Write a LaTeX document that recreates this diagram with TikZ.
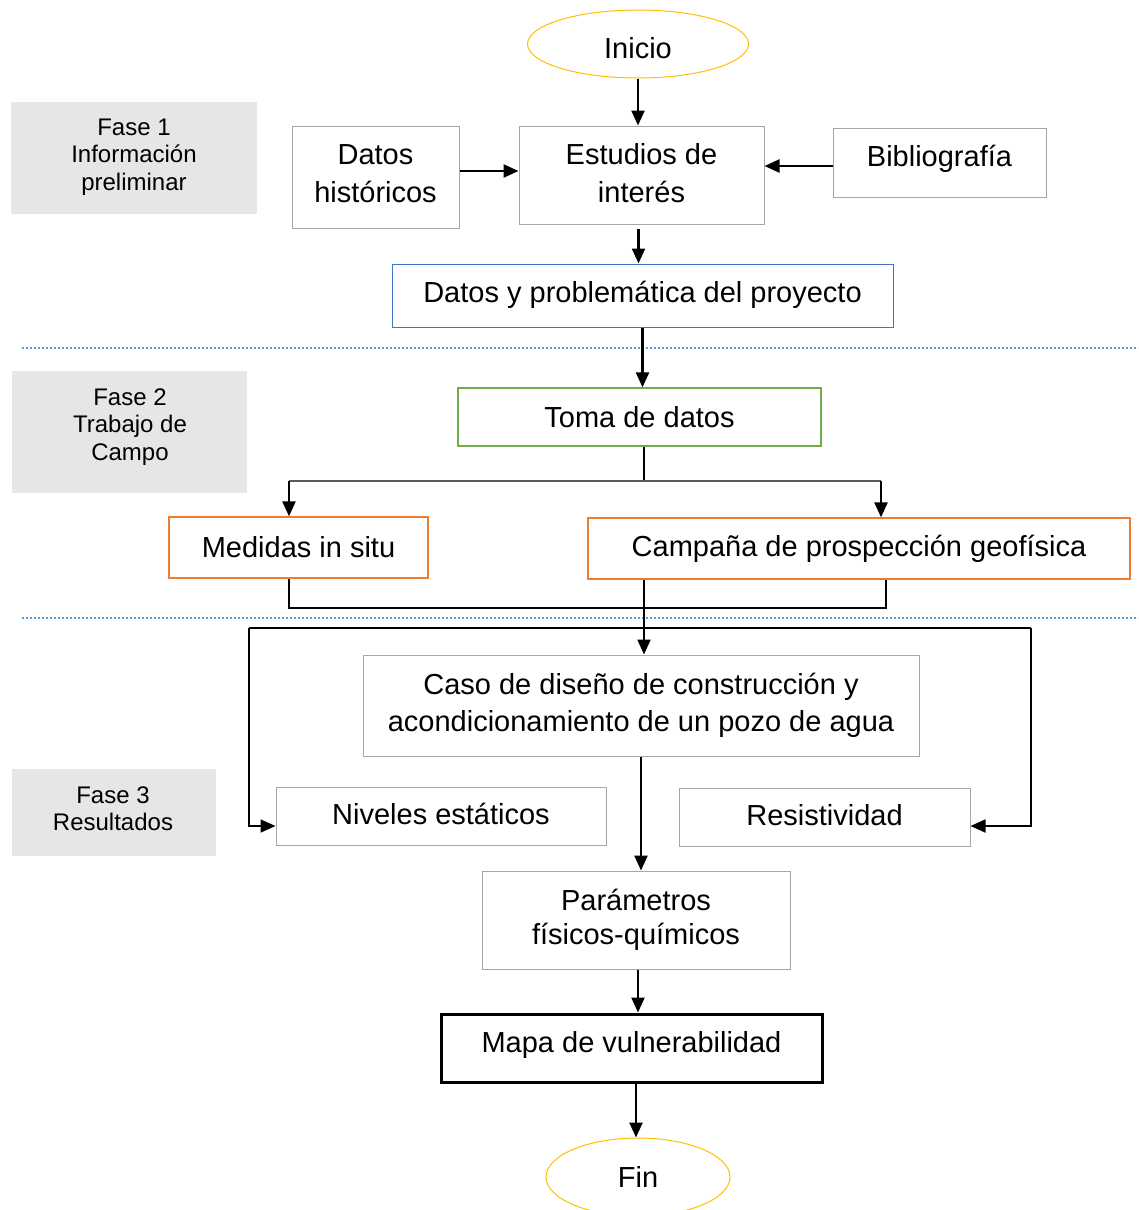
\documentclass[tikz,border=0pt]{standalone}
\usepackage{fontspec}
\setmainfont{Liberation Sans}
\usetikzlibrary{arrows.meta,shapes.geometric}
\definecolor{boxgray}{HTML}{A6A6A6}
\definecolor{phasegray}{HTML}{E7E6E6}
\definecolor{gold}{HTML}{FFC000}
\definecolor{pblue}{HTML}{4472C4}
\definecolor{pgreen}{HTML}{70AD47}
\definecolor{porange}{HTML}{ED7D31}
\definecolor{sepblue}{HTML}{5B9BD5}
\newcommand\shiftT[2]{\raisebox{#1}[\height][\depth]{\begin{tabular}{@{}c@{}}#2\end{tabular}}}
\begin{document}
\begin{tikzpicture}[x=1pt,y=-1pt,
  box/.style={draw=boxgray, line width=1pt, align=center, inner sep=0pt, font=\fontsize{29}{37}\selectfont},
  phasetext/.style={align=center, inner sep=0pt, font=\fontsize{24}{27.5}\selectfont},
  arr/.style={line width=2.4pt, -{Triangle[length=15pt,width=13pt]}},
  link/.style={line width=1.4pt},
  sep/.style={draw=sepblue, line width=1.2pt, dash pattern=on 2pt off 2pt}]
\useasboundingbox (0,0) rectangle (1138,1210);
\clip (0,0) rectangle (1138,1210);

% phase labels
\fill[phasegray] (11,102) rectangle (257,214);
\node[phasetext] (f1) at (134,157) {Fase 1\\Información\\preliminar};
\fill[phasegray] (12,371) rectangle (247,493);
\node[phasetext] (f2) at (130,427) {Fase 2\\Trabajo de\\Campo};
\fill[phasegray] (12,769) rectangle (216,856);
\node[phasetext] (f3) at (113,808.5) {Fase 3\\Resultados};

% separators
\draw[sep] (22,348) -- (1138,348);
\draw[sep] (22,618) -- (1138,618);

% nodes
\node[box, ellipse, draw=gold, minimum width=221, minimum height=68] (ini) at (638,44) {\shiftT{-7pt}{Inicio}};
\node[box, minimum width=167, minimum height=102] (dh) at (375.5,177) {\shiftT{1pt}{Datos\\[1pt]históricos}};
\node[box, minimum width=245, minimum height=98] (est) at (641.5,175) {\shiftT{-1pt}{Estudios de\\[1pt]interés}};
\node[box, minimum width=213, minimum height=69] (bib) at (939.5,162.5) {\shiftT{3pt}{Bibliografía}};
\node[box, draw=pblue, minimum width=501, minimum height=63] (dp) at (642.5,295.5) {\shiftT{0pt}{Datos y problemática del proyecto}};
\node[box, draw=pgreen, line width=1.3pt, minimum width=363, minimum height=58] (toma) at (639.5,417) {Toma de datos};
\node[box, draw=porange, line width=1.3pt, minimum width=259, minimum height=61] (med) at (298.5,547.5) {Medidas in situ};
\node[box, draw=porange, line width=1.3pt, minimum width=542, minimum height=61] (camp) at (859,548.5) {Campaña de prospección geofísica};
\node[box, minimum width=556, minimum height=101] (caso) at (641,705.5) {Caso de diseño de construcción y\\acondicionamiento de un pozo de agua};
\node[box, minimum width=330, minimum height=58] (niv) at (441,816) {\shiftT{-1pt}{Niveles estáticos}};
\node[box, minimum width=291, minimum height=58] (res) at (824.5,817) {\shiftT{-1pt}{Resistividad}};
\node[box, minimum width=308, minimum height=98, font=\fontsize{29}{34}\selectfont] (par) at (636,920) {Parámetros\\físicos-químicos};
\node[box, draw=black, line width=3pt, minimum width=381, minimum height=68] (mapa) at (631.5,1048) {\shiftT{3pt}{Mapa de vulnerabilidad}};
\node[box, ellipse, draw=gold, minimum width=184, minimum height=78] (fin) at (638,1177) {Fin};

% connectors, phase 1
\draw[arr] (ini.south) -- (ini.south |- est.north);
\coordinate (dha) at ([yshift=6pt]dh.east);
\draw[arr] (dha) -- (dha -| est.west);
\coordinate (ba) at ([yshift=-3.5pt]bib.west);
\draw[arr] (ba) -- (ba -| est.east);
\coordinate (es) at ([yshift=-4pt,xshift=-3pt]est.south);
\draw[arr] (es) -- (es |- dp.north);
\draw[arr] (dp.south) -- (dp.south |- toma.north);

% phase 2
\coordinate (j1) at (644,481);
\coordinate (mt) at ([xshift=-9.5pt]med.north);
\coordinate (ct) at ([xshift=22pt]camp.north);
\draw[link] (j1 |- toma.south) -- (j1);
\draw[line width=1.8pt, black!65] (mt |- j1) -- (ct |- j1);
\draw[arr] (mt |- j1) -- (mt);
\draw[arr] (ct |- j1) -- (ct);
\coordinate (j2) at (644,608);
\coordinate (mb) at ([xshift=-9.5pt]med.south);
\coordinate (cb) at ([xshift=27pt]camp.south);
\draw[link] (mb) |- (j2) -| (cb);
\draw[link] (j2 |- camp.south) -- (j2);
\draw[arr] (j2) -- (j2 |- caso.north);

% phase 3
\coordinate (tl) at (249,628);
\coordinate (tr) at (1031,628);
\draw[link] (tl) -- (tr);
\draw[arr, line width=1.8pt] (tl) |- ([yshift=-10pt]niv.west);
\draw[arr, line width=1.8pt] (tr) |- ([yshift=-9pt]res.east);
\draw[arr] (caso.south) -- (caso.south |- par.north);
\coordinate (ps) at ([xshift=2pt]par.south);
\draw[arr] (ps) -- (ps |- mapa.north);
\coordinate (ms) at ([xshift=4.5pt]mapa.south);
\draw[arr] (ms) -- (ms |- fin.north);
\end{tikzpicture}
\end{document}
